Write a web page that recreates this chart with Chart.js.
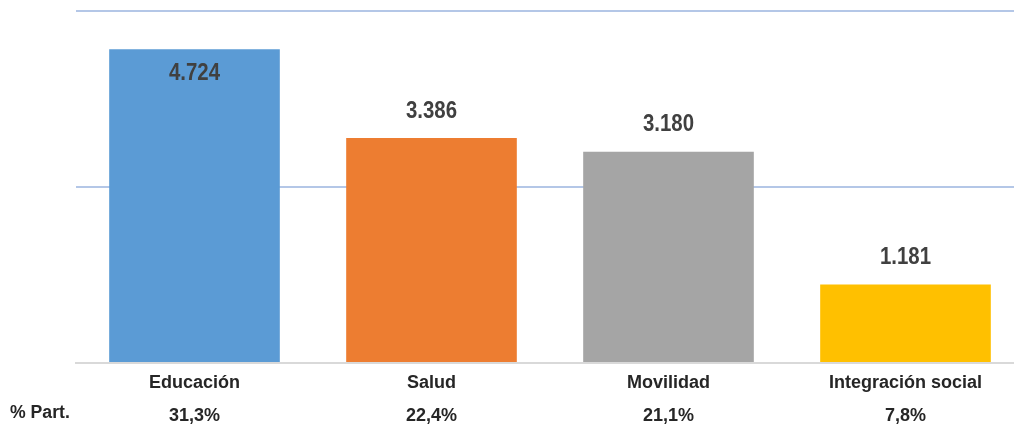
<!DOCTYPE html>
<html>
<head>
<meta charset="utf-8">
<script src="https://cdn.jsdelivr.net/npm/chart.js@4"></script>
<style>
  html, body { margin: 0; padding: 0; background: #fff; overflow: hidden; }
  #wrap { width: 1024px; height: 428px; position: relative; }
</style>
</head>
<body>
<div id="wrap"><canvas id="chart"></canvas></div>
<script>
const categories = ['Educación', 'Salud', 'Movilidad', 'Integración social'];
const values = [4724, 3386, 3180, 1181];
const valueLabels = ['4.724', '3.386', '3.180', '1.181'];
const shares = ['31,3%', '22,4%', '21,1%', '7,8%'];
const barColors = ['#5B9BD5', '#ED7D31', '#A5A5A5', '#FFC000'];
const rowLabel = '% Part.';

const FONT = "'Liberation Sans', Arial, sans-serif";

// draws a string squeezed horizontally, like a narrow font
function narrowText(ctx, text, x, y, sx) {
  ctx.save();
  ctx.translate(x, y);
  ctx.scale(sx, 1);
  ctx.fillText(text, 0, 0);
  ctx.restore();
}

const labelPlugin = {
  id: 'labels',
  afterDatasetsDraw(chart) {
    const ctx = chart.ctx;
    const meta = chart.getDatasetMeta(0);
    ctx.save();
    ctx.font = 'bold 24px ' + FONT;
    ctx.fillStyle = '#404040';
    ctx.textAlign = 'center';
    ctx.textBaseline = 'middle';
    meta.data.forEach((bar, i) => {
      let y = bar.y - 27;
      if (y < chart.chartArea.top + 20) y = bar.y + 24;
      narrowText(ctx, valueLabels[i], bar.x, y, 0.85);
    });
    // row title for the share line
    ctx.font = 'bold 18px ' + FONT;
    ctx.fillStyle = '#262626';
    ctx.textAlign = 'left';
    narrowText(ctx, rowLabel, 10, 413, 0.98);
    ctx.restore();
  }
};

new Chart(document.getElementById('chart'), {
  type: 'bar',
  data: {
    labels: categories.map((c, i) => [c, shares[i]]),
    datasets: [{
      data: values,
      backgroundColor: barColors,
      categoryPercentage: 0.72,
      barPercentage: 1
    }]
  },
  options: {
    responsive: true,
    maintainAspectRatio: false,
    animation: false,
    layout: { padding: { left: 76, top: 11, right: 0, bottom: 0 } },
    plugins: { legend: { display: false }, tooltip: { enabled: false } },
    scales: {
      x: {
        afterFit: s => { s.height = 65; },
        grid: { display: false },
        border: { color: '#D9D9D9', width: 2 },
        ticks: {
          padding: -4,
          color: '#262626',
          maxRotation: 0,
          font: { family: FONT, size: 18, weight: 'bold', lineHeight: 1.8 }
        }
      },
      y: {
        min: 0,
        max: 5300,
        ticks: { display: false, stepSize: 2650 },
        border: { display: false },
        grid: {
          drawTicks: false,
          lineWidth: 2,
          color: c => c.tick.value === 0 ? 'rgba(0,0,0,0)' : '#B4C7E7'
        }
      }
    }
  },
  plugins: [labelPlugin]
});
</script>
</body>
</html>
